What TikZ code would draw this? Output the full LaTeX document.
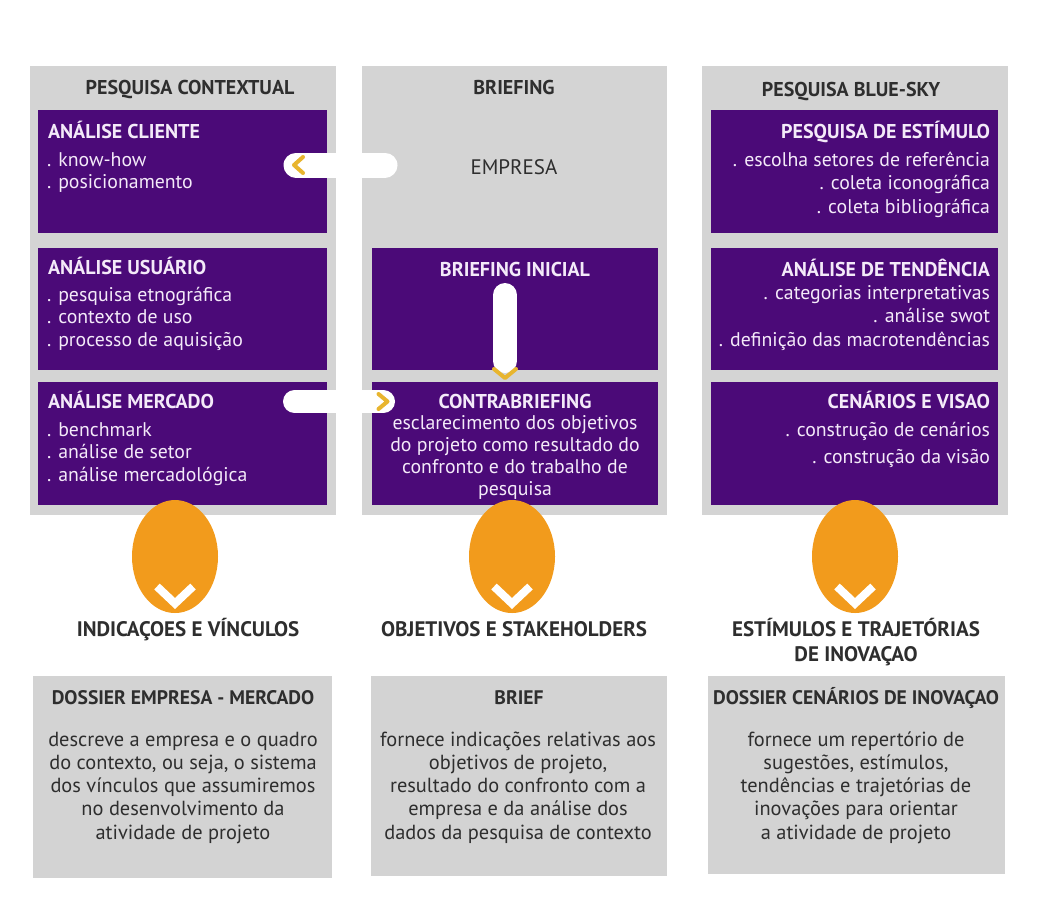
\documentclass[tikz,border=0pt]{standalone}
\usepackage{fontspec}
\setmainfont{PT Sans}
\usetikzlibrary{shapes.geometric}

\definecolor{panelgray}{HTML}{D4D4D4}
\definecolor{cardgray}{HTML}{D3D3D3}
\definecolor{deeppurple}{HTML}{4B0A78}
\definecolor{amber}{HTML}{F29B1C}
\definecolor{chevgold}{HTML}{E8B52E}
\definecolor{lavtext}{HTML}{F4EAF9}
\definecolor{inkgray}{HTML}{2E2E2E}

% rectangle node given by two corners (coordinates in px units)
\newcommand\areanode[6]{%
  \node[#2, minimum width={(#5-#3)*0.5pt}, minimum height={(#6-#4)*0.5pt}]
    (#1) at ({(#3+#5)/2},{(#4+#6)/2}) {};}
% a stack of text lines: name, style, x, first baseline, line step, lines
\newcommand\txtlines[6]{%
  \foreach \t [count=\i] in {#6} {%
    \node[#2] (#1-\i) at (#3,{#4+#5*(\i-1)}) {\t};}}

\begin{document}
\begin{tikzpicture}[x=0.5pt,y=-0.5pt,
  every node/.style={inner sep=0pt, outer sep=0pt},
  column/.style={rectangle, fill=panelgray},
  card/.style={rectangle, fill=cardgray},
  purplebox/.style={rectangle, fill=deeppurple},
  colhead/.style={font=\bfseries\fontsize{10}{12}\selectfont, text=inkgray, anchor=base},
  ptitleL/.style={font=\bfseries\fontsize{10}{12}\selectfont, text=lavtext, anchor=base west},
  ptitleR/.style={font=\bfseries\fontsize{10}{12}\selectfont, text=lavtext, anchor=base east},
  ptitleC/.style={font=\bfseries\fontsize{10}{12}\selectfont, text=lavtext, anchor=base},
  pitemL/.style={font=\fontsize{9.9}{12}\selectfont, text=lavtext, anchor=base west},
  pitemR/.style={font=\fontsize{9.9}{12}\selectfont, text=lavtext, anchor=base east},
  pitemC/.style={font=\fontsize{9.9}{12}\selectfont, text=lavtext, anchor=base},
  graytext/.style={font=\fontsize{10.5}{12}\selectfont, text=inkgray, anchor=base},
  outlabel/.style={font=\bfseries\fontsize{10.5}{12}\selectfont, text=inkgray, anchor=base},
  cardtitle/.style={font=\bfseries\fontsize{9.8}{12}\selectfont, text=inkgray, anchor=base},
  cardbody/.style={font=\fontsize{10.2}{12}\selectfont, text=inkgray, anchor=base},
  pill/.style={white, line cap=round},
  chevron/.style={chevgold, line width=2pt, line cap=round, line join=round},
  drop/.style={ellipse, fill=amber, minimum width=43pt, minimum height=56.5pt},
  dropmark/.style={white, line width=4pt, line join=miter}
]
\fill[white] (0,0) rectangle (1042,922);
\useasboundingbox (0,0) rectangle (1042,922);

% three research columns
\areanode{colL}{column}{30}{66}{336}{515}
\areanode{colM}{column}{362}{66}{667}{515}
\areanode{colR}{column}{702}{66}{1008}{515}

% purple stage boxes
\areanode{cli}{purplebox}{38}{110}{327}{233}
\areanode{usu}{purplebox}{38}{248}{327}{370}
\areanode{mer}{purplebox}{38}{382}{327}{505}
\areanode{bini}{purplebox}{372}{248}{658}{370}
\areanode{contra}{purplebox}{372}{382}{658}{505}
\areanode{est}{purplebox}{711}{110}{998}{233}
\areanode{ten}{purplebox}{711}{248}{998}{370}
\areanode{cen}{purplebox}{711}{382}{998}{505}

% column headings
\node[colhead] (hL) at (190,94) {PESQUISA CONTEXTUAL};
\node[colhead] (hM) at (514,94) {BRIEFING};
\node[colhead] (hR) at (851,96) {PESQUISA BLUE-SKY};
\node[graytext] (emp) at (514,174) {EMPRESA};

% connectors between the columns
\coordinate (aFrom) at (385,165);
\coordinate (aTo) at (296,165);
\coordinate (bFrom) at (294.5,401.5);
\coordinate (bTo) at (383.5,401.5);
\coordinate (cFrom) at (505,295);
\coordinate (cTo) at (505,361);
\draw[pill, line width=12.5pt] (aFrom) -- (aTo);
\draw[pill, line width=11.5pt] (bFrom) -- (bTo);
\draw[pill, line width=12pt] (cFrom) -- (cTo);
\draw[chevron] ([shift={(7,-8)}]aTo) -- ([shift={(-2,0)}]aTo) -- ([shift={(7,8)}]aTo);
\draw[chevron] ([shift={(-5,-7.5)}]bTo) -- ([shift={(4,0)}]bTo) -- ([shift={(-5,7.5)}]bTo);
\draw[chevron] ([shift={(-11,8)}]cTo) -- ([shift={(0,17)}]cTo) -- ([shift={(11,8)}]cTo);

% left column text
\node[ptitleL] (cliT) at (48,138) {ANÁLISE CLIENTE};
\txtlines{cliI}{pitemL}{47}{166}{22.5}{{. know-how},{. posicionamento}}
\node[ptitleL] (usuT) at (48,274) {ANÁLISE USUÁRIO};
\txtlines{usuI}{pitemL}{47}{301}{22.5}{{. pesquisa etnográfica},{. contexto de uso},{. processo de aquisição}}
\node[ptitleL] (merT) at (48,408) {ANÁLISE MERCADO};
\txtlines{merI}{pitemL}{47}{436}{22.5}{{. benchmark},{. análise de setor},{. análise mercadológica}}

% middle column text
\node[ptitleC] (biniT) at (515,276) {BRIEFING INICIAL};
\node[ptitleC] (contraT) at (515,408) {CONTRABRIEFING};
\txtlines{contraI}{pitemC}{515}{429}{22.3}{{esclarecimento dos objetivos},{do projeto como resultado do},{confronto e do trabalho de},{pesquisa}}

% right column text
\node[ptitleR] (estT) at (990,138) {PESQUISA DE ESTÍMULO};
\txtlines{estI}{pitemR}{990}{166}{23.5}{{. escolha setores de referência},{. coleta iconográfica},{. coleta bibliográfica}}
\node[ptitleR] (tenT) at (990,276) {ANÁLISE DE TENDÊNCIA};
\txtlines{tenI}{pitemR}{990}{299}{23.5}{{. categorias interpretativas},{. análise swot},{. definição das macrotendências}}
\node[ptitleR] (cenT) at (990,408) {CENÁRIOS E VISAO};
\txtlines{cenI}{pitemR}{990}{436}{27}{{. construção de cenários},{. construção da visão}}

% orange drops leading to the outcomes
\node[drop] (dL) at (175,556.5) {};
\node[drop] (dM) at (512,556.5) {};
\node[drop] (dR) at (855,556.5) {};
\foreach \d in {dL,dM,dR}{
  \draw[dropmark] ([shift={(-18,30)}]\d.center) -- ([shift={(0,47)}]\d.center) -- ([shift={(18,30)}]\d.center);
}

% outcome labels
\node[outlabel] (oL) at (188,636) {INDICAÇOES E VÍNCULOS};
\node[outlabel] (oM) at (514,636) {OBJETIVOS E STAKEHOLDERS};
\node[outlabel] (oR1) at (856,636) {ESTÍMULOS E TRAJETÓRIAS};
\node[outlabel] (oR2) at (856,661) {DE INOVAÇAO};

% result cards
\areanode{dos}{card}{33}{676}{332}{878}
\areanode{brief}{card}{371}{676}{667}{876}
\areanode{inov}{card}{708}{676}{1005}{874}
\node[cardtitle] (dosT) at (183,704) {DOSSIER EMPRESA - MERCADO};
\node[cardtitle] (briefT) at (519,704) {BRIEF};
\node[cardtitle] (inovT) at (856,704) {DOSSIER CENÁRIOS DE INOVAÇAO};
\txtlines{dosI}{cardbody}{183}{746}{23.3}{{descreve a empresa e o quadro},{do contexto, ou seja, o sistema},{dos vínculos que assumiremos},{no desenvolvimento da},{atividade de projeto}}
\txtlines{briefI}{cardbody}{518}{746}{23.3}{{fornece indicações relativas aos},{objetivos de projeto,},{resultado do confronto com a},{empresa e da análise dos},{dados da pesquisa de contexto}}
\txtlines{inovI}{cardbody}{856}{746}{23.3}{{fornece um repertório de},{sugestões, estímulos,},{tendências e trajetórias de},{inovações para orientar},{a atividade de projeto}}
\end{tikzpicture}
\end{document}
